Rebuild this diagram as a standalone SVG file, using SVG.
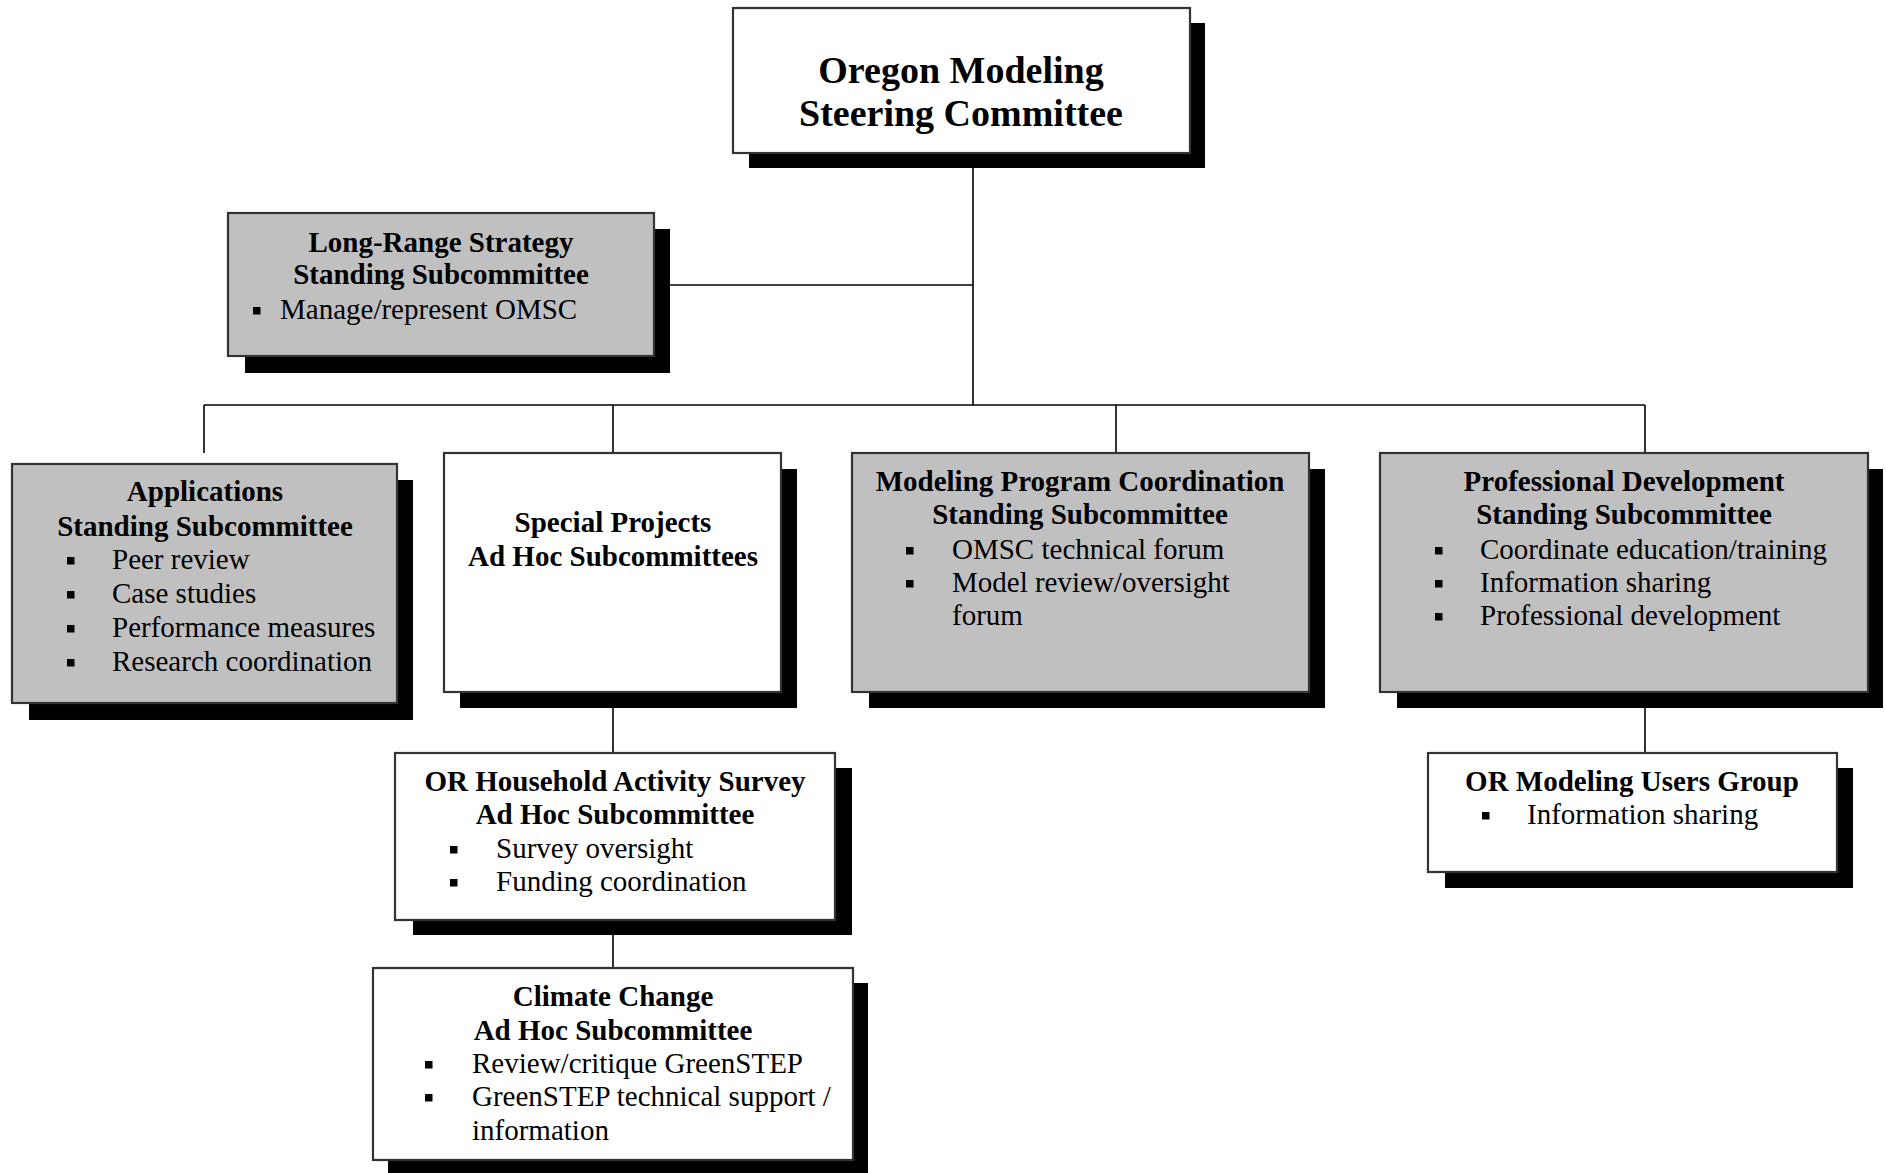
<svg xmlns="http://www.w3.org/2000/svg" width="1886" height="1173" viewBox="0 0 1886 1173">
<style>
  .shadow { fill: #000; }
  .box { stroke: #333; stroke-width: 2.2; }
  .gray { fill: #c0c0c0; }
  .white { fill: #fff; }
  .conn { stroke: #000; stroke-width: 1.6; fill: none; }
  .t { font-family: "Liberation Serif", "Times New Roman", serif; fill: #000; }
  .h { font-weight: bold; font-size: 29px; text-anchor: middle; }
  .b { font-size: 29px; }
  .main { font-weight: bold; font-size: 38px; text-anchor: middle; }
  .sq { fill: #000; }
</style>
<rect x="0" y="0" width="1886" height="1173" fill="#fff"/>

<g id="connectors">
  <line class="conn" x1="973" y1="153" x2="973" y2="405"/>
  <line class="conn" x1="654" y1="285" x2="973" y2="285"/>
  <line class="conn" x1="204" y1="405" x2="1645" y2="405"/>
  <line class="conn" x1="204" y1="405" x2="204" y2="453"/>
  <line class="conn" x1="613" y1="405" x2="613" y2="453"/>
  <line class="conn" x1="1116" y1="405" x2="1116" y2="453"/>
  <line class="conn" x1="1645" y1="405" x2="1645" y2="453"/>
  <line class="conn" x1="613" y1="692" x2="613" y2="753"/>
  <line class="conn" x1="613" y1="920" x2="613" y2="968"/>
  <line class="conn" x1="1645" y1="692" x2="1645" y2="753"/>
</g>

<g id="omsc">
  <rect class="shadow" x="749" y="23" width="456" height="145"/>
  <rect class="box white" x="733" y="8" width="457" height="145"/>
  <text class="t main" x="961" y="83">Oregon Modeling</text>
  <text class="t main" x="961" y="126">Steering Committee</text>
</g>

<g id="long-range">
  <rect class="shadow" x="245" y="229" width="425" height="144"/>
  <rect class="box gray" x="228" y="213" width="426" height="143"/>
  <text class="t h" x="441" y="252">Long-Range Strategy</text>
  <text class="t h" x="441" y="284">Standing Subcommittee</text>
  <rect class="sq" x="253" y="307" width="7.5" height="7.5"/>
  <text class="t b" x="280" y="319">Manage/represent OMSC</text>
</g>

<g id="applications">
  <rect class="shadow" x="29" y="480" width="384" height="240"/>
  <rect class="box gray" x="12" y="464" width="385" height="239"/>
  <text class="t h" x="205" y="501">Applications</text>
  <text class="t h" x="205" y="536">Standing Subcommittee</text>
  <rect class="sq" x="67" y="557" width="7.5" height="7.5"/>
  <text class="t b" x="112" y="569">Peer review</text>
  <rect class="sq" x="67" y="591" width="7.5" height="7.5"/>
  <text class="t b" x="112" y="603">Case studies</text>
  <rect class="sq" x="67" y="625" width="7.5" height="7.5"/>
  <text class="t b" x="112" y="637">Performance measures</text>
  <rect class="sq" x="67" y="659" width="7.5" height="7.5"/>
  <text class="t b" x="112" y="671">Research coordination</text>
</g>

<g id="special-projects">
  <rect class="shadow" x="460" y="469" width="337" height="239"/>
  <rect class="box white" x="444" y="453" width="337" height="239"/>
  <text class="t h" x="613" y="532">Special Projects</text>
  <text class="t h" x="613" y="566">Ad Hoc Subcommittees</text>
</g>

<g id="modeling-program">
  <rect class="shadow" x="869" y="469" width="456" height="239"/>
  <rect class="box gray" x="852" y="453" width="457" height="239"/>
  <text class="t h" x="1080" y="491">Modeling Program Coordination</text>
  <text class="t h" x="1080" y="524">Standing Subcommittee</text>
  <rect class="sq" x="906" y="547" width="7.5" height="7.5"/>
  <text class="t b" x="952" y="559">OMSC technical forum</text>
  <rect class="sq" x="906" y="580" width="7.5" height="7.5"/>
  <text class="t b" x="952" y="592">Model review/oversight</text>
  <text class="t b" x="952" y="625">forum</text>
</g>

<g id="professional-development">
  <rect class="shadow" x="1397" y="469" width="486" height="239"/>
  <rect class="box gray" x="1380" y="453" width="488" height="239"/>
  <text class="t h" x="1624" y="491">Professional Development</text>
  <text class="t h" x="1624" y="524">Standing Subcommittee</text>
  <rect class="sq" x="1435" y="547" width="7.5" height="7.5"/>
  <text class="t b" x="1480" y="559">Coordinate education/training</text>
  <rect class="sq" x="1435" y="580" width="7.5" height="7.5"/>
  <text class="t b" x="1480" y="592">Information sharing</text>
  <rect class="sq" x="1435" y="613" width="7.5" height="7.5"/>
  <text class="t b" x="1480" y="625">Professional development</text>
</g>

<g id="household-survey">
  <rect class="shadow" x="413" y="768" width="439" height="167"/>
  <rect class="box white" x="395" y="753" width="440" height="167"/>
  <text class="t h" x="615" y="791">OR Household Activity Survey</text>
  <text class="t h" x="615" y="824">Ad Hoc Subcommittee</text>
  <rect class="sq" x="450" y="846" width="7.5" height="7.5"/>
  <text class="t b" x="496" y="858">Survey oversight</text>
  <rect class="sq" x="450" y="879" width="7.5" height="7.5"/>
  <text class="t b" x="496" y="891">Funding coordination</text>
</g>

<g id="climate-change">
  <rect class="shadow" x="388" y="983" width="480" height="192"/>
  <rect class="box white" x="373" y="968" width="480" height="192"/>
  <text class="t h" x="613" y="1006">Climate Change</text>
  <text class="t h" x="613" y="1040">Ad Hoc Subcommittee</text>
  <rect class="sq" x="425" y="1061" width="7.5" height="7.5"/>
  <text class="t b" x="472" y="1073">Review/critique GreenSTEP</text>
  <rect class="sq" x="425" y="1094" width="7.5" height="7.5"/>
  <text class="t b" x="472" y="1106">GreenSTEP technical support /</text>
  <text class="t b" x="472" y="1140">information</text>
</g>

<g id="users-group">
  <rect class="shadow" x="1445" y="768" width="408" height="120"/>
  <rect class="box white" x="1428" y="753" width="409" height="119"/>
  <text class="t h" x="1632" y="791">OR Modeling Users Group</text>
  <rect class="sq" x="1482" y="812" width="7.5" height="7.5"/>
  <text class="t b" x="1527" y="824">Information sharing</text>
</g>
</svg>
